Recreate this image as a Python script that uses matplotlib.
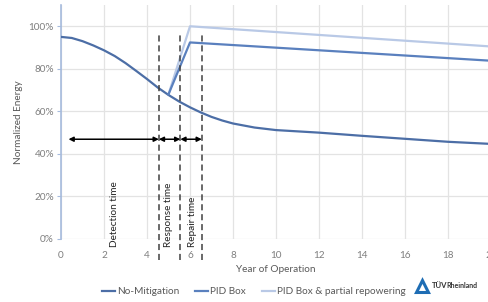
import matplotlib.pyplot as plt
from matplotlib.lines import Line2D

plt.rcParams['font.family'] = ['Lato', 'DejaVu Sans']

# No-Mitigation degradation curve
years_nm = [0, 0.5, 1, 1.5, 2, 2.5, 3, 3.5, 4, 4.5, 5, 5.5, 6, 6.5, 7, 7.5, 8, 9, 10, 12, 14, 16, 18, 20]
energy_nm = [0.950, 0.945, 0.930, 0.910, 0.887, 0.860, 0.827, 0.790, 0.752, 0.712, 0.677, 0.646,
             0.619, 0.595, 0.574, 0.557, 0.543, 0.524, 0.512, 0.500, 0.485, 0.471, 0.457, 0.447]

# PID Box
years_pid = [5, 6, 20]
energy_pid = [0.68, 0.924, 0.838]

# PID Box & partial repowering
years_rep = [5, 6, 20]
energy_rep = [0.68, 1.0, 0.905]

# phase boundaries and labels
phase_x = [4.55, 5.55, 6.55]
arrow_spans = [(0.35, 4.55), (4.55, 5.55), (5.55, 6.55)]
phase_labels = ['Detection time', 'Response time', 'Repair time']
phase_label_x = [2.47, 5.0, 6.1]

x_ticks = [0, 2, 4, 6, 8, 10, 12, 14, 16, 18, 20]
y_ticks = [0, 0.2, 0.4, 0.6, 0.8, 1.0]

c_nm = '#4C6EA6'
c_pid = '#5A80BE'
c_rep = '#B9C9E6'
grey = '#7F7F7F'

fig = plt.figure(figsize=(4.89, 3.02), dpi=100)
ax = fig.add_axes([61 / 489, 63 / 302, 430 / 489, 234 / 302])

ax.plot(years_nm, energy_nm, color=c_nm, lw=1.6, label='No-Mitigation', zorder=3)
ax.plot(years_pid, energy_pid, color=c_pid, lw=1.6, label='PID Box', zorder=3)
ax.plot(years_rep, energy_rep, color=c_rep, lw=1.6, label='PID Box & partial repowering', zorder=2)

for xv in phase_x:
    ax.plot([xv, xv], [-0.1, 0.975], color='#404040', lw=1.1, ls=(0, (4, 2.5)),
            clip_on=False, zorder=4)

for x0, x1 in arrow_spans:
    ax.annotate('', xy=(x0, 0.469), xytext=(x1, 0.469),
                arrowprops=dict(arrowstyle='<|-|>', color='black', lw=1.1,
                                mutation_scale=7, shrinkA=0, shrinkB=0), zorder=5)

for lx, txt in zip(phase_label_x, phase_labels):
    ax.text(lx, -0.036, txt, rotation=90, ha='center', va='bottom', fontsize=7.2,
            color='#262626', clip_on=False)

ax.set_xlim(0, 20)
ax.set_ylim(0, 1.1)
ax.set_xticks(x_ticks)
ax.set_yticks(y_ticks)
ax.set_yticklabels([f'{int(round(v * 100))}%' for v in y_ticks])
ax.grid(True, color='#E3E3E3', lw=0.9)
ax.set_axisbelow(True)
for s in ['top', 'right', 'bottom']:
    ax.spines[s].set_visible(False)
ax.spines['left'].set_color('#A6BBDD')
ax.spines['left'].set_linewidth(1.2)
ax.tick_params(axis='x', length=0, labelsize=7.2, labelcolor=grey, pad=9)
ax.tick_params(axis='y', length=3, color='#A6BBDD', labelsize=7.2, labelcolor=grey, pad=2)

ax.set_xlabel('Year of Operation', fontsize=7.2, color='#595959', labelpad=3)
ax.set_ylabel('Normalized Energy', fontsize=7.2, color='#595959', labelpad=4)

handles = [Line2D([], [], color=c_nm, lw=1.6), Line2D([], [], color=c_pid, lw=1.6),
           Line2D([], [], color=c_rep, lw=1.6)]
fig.legend(handles, ['No-Mitigation', 'PID Box', 'PID Box & partial repowering'],
           loc='center', bbox_to_anchor=(254 / 489, 1 - 292 / 302), ncol=3, frameon=False,
           fontsize=7.2, handlelength=1.3, handletextpad=0.2, columnspacing=1.6,
           labelcolor='#595959')

# logo
fig.add_artist(Line2D([422 / 489], [1 - 286 / 302], marker='^', markersize=9,
                      markerfacecolor='white', markeredgecolor='#1E6DB4', markeredgewidth=2.2,
                      transform=fig.transFigure))
t1 = fig.text(432 / 489, 1 - 285 / 302, 'TÜV', fontsize=5.6, fontweight='bold', color='#333333',
              va='center', ha='left')
fig.canvas.draw()
bb = t1.get_window_extent()
fig.text((bb.x1 - 1.5) / 489, 1 - 285 / 302, 'Rheinland', fontsize=5.0, fontweight='bold',
         color='#333333', va='center', ha='left')

fig.savefig('out.png', dpi=100)
